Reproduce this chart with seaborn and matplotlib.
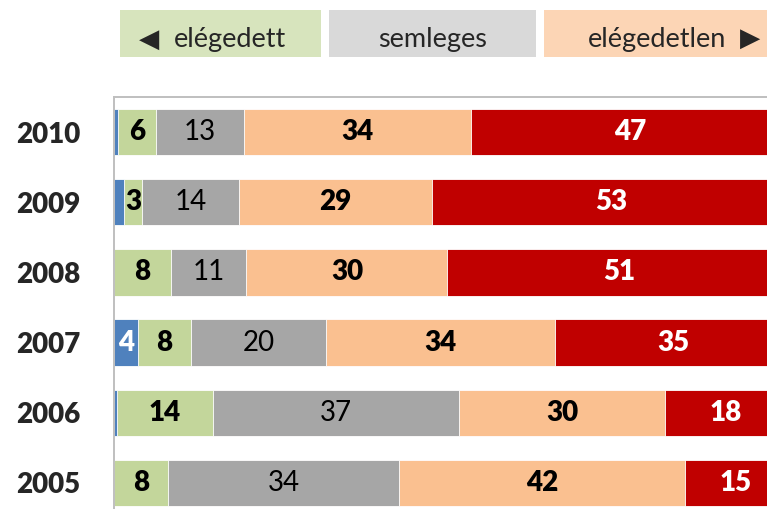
import numpy as np
import pandas as pd
import seaborn as sns
import matplotlib.pyplot as plt
from matplotlib.patches import Rectangle

# years, top to bottom
years = ["2010", "2009", "2008", "2007", "2006", "2005"]

# shares (%) per answer
nagyon_elegedett = [0.6, 1.5, 0, 3.5, 0.5, 0]
elegedett = [5.6, 2.7, 8.4, 7.9, 14.1, 8.0]
semleges = [13.0, 14.3, 11.2, 20.0, 36.5, 34.2]
elegedetlen = [33.6, 28.6, 29.7, 33.9, 30.4, 42.3]
nagyon_elegedetlen = [47, 53, 51, 35, 18, 15]

series_names = ["nagyon elégedett", "elégedett", "semleges", "elégedetlen", "nagyon elégedetlen"]
series_vals = [nagyon_elegedett, elegedett, semleges, elegedetlen, nagyon_elegedetlen]
colors = ["#4F81BD", "#C3D69B", "#A6A6A6", "#FAC090", "#C00000"]
label_color = ["white", "black", "black", "black", "white"]
label_weight = ["heavy", "heavy", "normal", "heavy", "heavy"]

legend_labels = ["elégedett", "semleges", "elégedetlen"]
legend_colors = ["#D7E4BD", "#D9D9D9", "#FCD5B5"]

sns.set_style("white")
plt.rcParams["font.family"] = ["Lato", "DejaVu Sans"]

df = pd.DataFrame({"ev": years})
for name, vals in zip(series_names, series_vals):
    df[name] = vals
cum = df[series_names].cumsum(axis=1)

W, H = 767, 509
fig = plt.figure(figsize=(W / 100, H / 100), dpi=100)
# plot area runs past the right and bottom edges (cropped like the original)
ax = fig.add_axes([114 / W, 1 - 518 / H, 676 / W, 421 / H])

# stacked bars: draw cumulative totals from the longest down
for i in range(len(series_names) - 1, -1, -1):
    plot_df = pd.DataFrame({"ev": years, "v": cum[series_names[i]]})
    sns.barplot(data=plot_df, x="v", y="ev", order=years, orient="h",
                color=colors[i], saturation=1, width=0.66,
                edgecolor="white", linewidth=0.6, ax=ax)

# value labels (rounded half up, like Excel)
for i, name in enumerate(series_names):
    for j in range(len(years)):
        v = df[name][j]
        if v < 2:
            continue
        left = cum[name][j] - v
        ax.text(left + v / 2, j, str(int(v + 0.5)), ha="center", va="center",
                fontsize=20, color=label_color[i], fontweight=label_weight[i])

ax.set_xlim(0, 100)
ax.set_ylim(5.5, -0.5)
ax.set_xlabel("")
ax.set_ylabel("")
ax.set_xticks([])
ax.tick_params(axis="y", length=0, pad=24)
for t in ax.get_yticklabels():
    t.set_fontsize(20)
    t.set_fontweight("heavy")
for s in ax.spines.values():
    s.set_color("#BFBFBF")
    s.set_linewidth(1.4)

# legend boxes on top
box_x = [120, 329, 544]
box_w = [201, 207, 240]
for bx, bw, c in zip(box_x, box_w, legend_colors):
    fig.add_artist(Rectangle((bx / W, 1 - 57 / H), bw / W, 47 / H,
                             transform=fig.transFigure, color=c, lw=0))
base = 1 - 47 / H
fig.text(149 / W, 1 - 40 / H, "◀", ha="center", va="center", fontsize=19,
         family=["DejaVu Sans"])
fig.text(230 / W, base, legend_labels[0], ha="center", va="baseline", fontsize=19.5)
fig.text(433 / W, base, legend_labels[1], ha="center", va="baseline", fontsize=19.5)
fig.text(657 / W, base, legend_labels[2], ha="center", va="baseline", fontsize=19.5)
fig.text(750 / W, 1 - 39 / H, "▶", ha="center", va="center", fontsize=19,
         family=["DejaVu Sans"])

fig.savefig("out.png", dpi=100)
